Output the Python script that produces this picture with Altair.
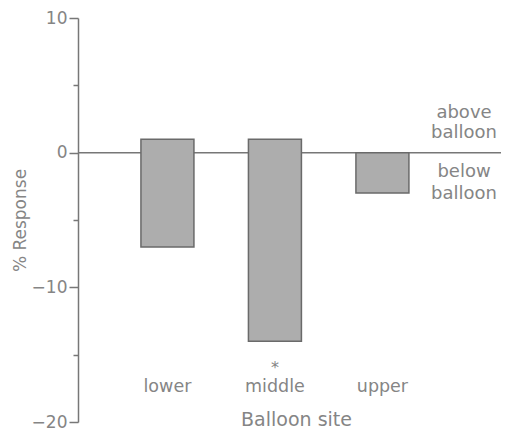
import altair as alt
import pandas as pd

# ---- data ----
sites = ["lower", "middle", "upper"]
bar_top = [1, 1, 0]
bar_bottom = [-7, -14, -3]
sig_marks = ["", "*", ""]
site_label_y = [-17.8, -17.8, -17.8]
sig_y = [-16.35, -16.35, -16.35]
y_tick_values = [10, 5, 0, -5, -10, -15, -20]
side_texts = ["above", "balloon", "below", "balloon"]
side_y = [2.6, 1.11, -1.78, -3.41]

GRAY_TEXT = "#858585"
GRAY_LINE = "#777777"
FONT = "DejaVu Sans"

df = pd.DataFrame({
    "site": sites,
    "top": bar_top,
    "bottom": bar_bottom,
    "sig": sig_marks,
    "label_y": site_label_y,
    "sig_y": sig_y,
})
side_df = pd.DataFrame({"t": side_texts, "y": side_y})
zero_df = pd.DataFrame({"y": [0]})

y_scale = alt.Scale(domain=[-20, 10], nice=False, zero=False)
x_scale = alt.Scale(domain=sites, paddingInner=0.507, paddingOuter=0.721, align=0.406)

base = alt.Chart(df)

bars = base.mark_bar(fill="#adadad", stroke="#6a6a6a", strokeWidth=1.5).encode(
    x=alt.X(
        "site:N", scale=x_scale, sort=sites,
        axis=alt.Axis(
            title="Balloon site", domain=False, ticks=False, labels=False,
            titleX=218, titleY=3, titleBaseline="alphabetic", titleAlign="center",
            titleFontSize=19,
        ),
    ),
    y=alt.Y(
        "top:Q", scale=y_scale,
        axis=alt.Axis(
            values=y_tick_values,
            labelExpr="datum.value % 10 === 0 ? datum.label : ''",
            tickSize={"condition": {"test": "datum.value % 10 === 0", "value": 9}, "value": 5},
            grid=False, title="% Response", labelPadding=2, labelFontSize=17,
            titleX=-58, titleBaseline="middle", titleFontSize=17,
        ),
    ),
    y2="bottom:Q",
)

zero_rule = alt.Chart(zero_df).mark_rule(color=GRAY_LINE, strokeWidth=1.5).encode(
    y=alt.Y("y:Q", scale=y_scale)
)

site_labels = base.mark_text(fontSize=17.5, color=GRAY_TEXT, font=FONT, baseline="alphabetic").encode(
    x=alt.X("site:N", scale=x_scale, sort=sites),
    y=alt.Y("label_y:Q", scale=y_scale),
    text="site:N",
)

sig_text = base.mark_text(fontSize=16, color=GRAY_TEXT, font=FONT, baseline="alphabetic").encode(
    x=alt.X("site:N", scale=x_scale, sort=sites),
    y=alt.Y("sig_y:Q", scale=y_scale),
    text="sig:N",
)

side = alt.Chart(side_df).mark_text(
    fontSize=18, color=GRAY_TEXT, font=FONT, align="center", baseline="alphabetic",
).encode(
    x=alt.value(386),
    y=alt.Y("y:Q", scale=y_scale),
    text="t:N",
)

chart = alt.layer(zero_rule, bars, site_labels, sig_text, side).properties(
    width=423,
    height=404,
    padding={"left": 70, "top": 10, "right": 0, "bottom": 10},
    autosize=alt.AutoSizeParams(type="none"),
).configure_view(stroke=None).configure_axis(
    labelFont=FONT, titleFont=FONT,
    labelColor=GRAY_TEXT, titleColor=GRAY_TEXT, titleFontWeight="normal",
    domainColor=GRAY_LINE, tickColor=GRAY_LINE, domainWidth=1.5, tickWidth=1.5,
)

chart.save("out.html", embed_options={"renderer": "svg", "actions": False})
